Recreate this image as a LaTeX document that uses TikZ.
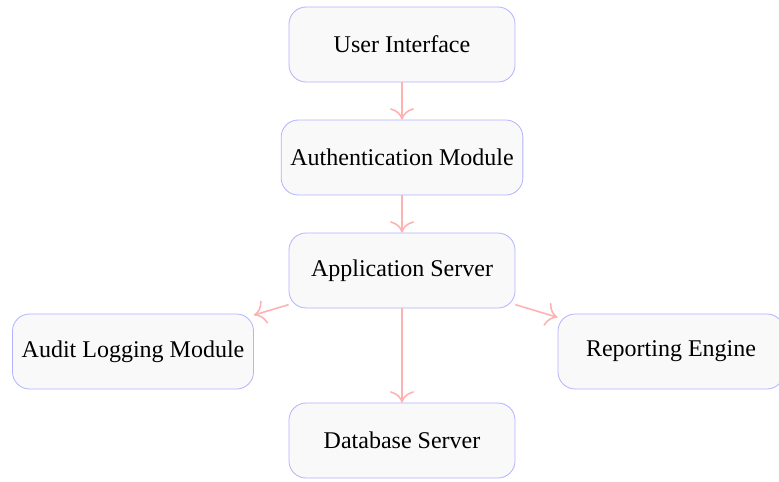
\documentclass[tikz,border=0pt]{standalone}
\usepackage{fontspec}
\setmainfont{Liberation Serif}
\usetikzlibrary{arrows.meta}
\tikzset{
  block/.style={draw=blue!30, fill=gray!5, rounded corners=3mm, inner sep=4.6pt,
    minimum width=113pt, minimum height=37.5pt, font=\fontsize{12}{14}\selectfont},
  link/.style={-{To[scale=1.7]}, draw=red!30, thick}
}
\begin{document}
\begin{tikzpicture}[x=0.5pt,y=-0.5pt] % one unit = one pixel of the layout

\useasboundingbox (0,0) rectangle (779,481);
\def\mid{402} % middle column
\node[block] (ui)    at (\mid,44.5)  {User Interface};
\node[block] (auth)  at (\mid,157.5) {Authentication Module};
\node[block] (app)   at (\mid,270.5) {Application Server};
\node[block] (audit) at (133,351.5)  {Audit Logging Module};
\node[block] (rep)   at (671,351.5)  {Reporting Engine};
\node[block] (db)    at (\mid,440.5) {Database Server};
\draw[link] (ui) -- (auth);
\draw[link] (auth) -- (app);
\draw[link] (app) -- (audit);
\draw[link] (app) -- (rep);
\draw[link] (app) -- (db);
\end{tikzpicture}
\end{document}
